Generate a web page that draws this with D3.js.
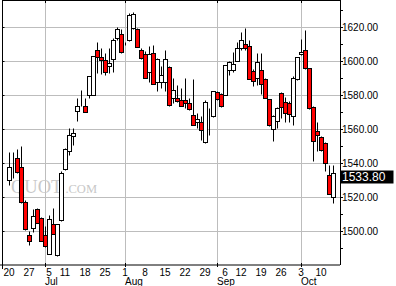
<!DOCTYPE html>
<html>
<head>
<meta charset="utf-8">
<script src="https://cdn.jsdelivr.net/npm/d3@7"></script>
<style>
  body { margin: 0; background: #fff; }
  svg { display: block; font-family: "Liberation Sans", Arial, sans-serif; }
</style>
</head>
<body>
<div id="chart"></div>
<script>
// trading days Jun 20 - Oct 13 2005, weekends and market holidays left out
var firstDay = "2005-06-20", lastDay = "2005-10-13";
var holidays = ["2005-07-04", "2005-09-05"];

var open = [1529.8, 1535.8, 1542.5, 1537.6, 1516.8, 1497.6, 1501.4, 1512.4, 1507.6, 1497.6,
            1486.3, 1503.9, 1485.3, 1505.9, 1536.1, 1546.8, 1555.3, 1570.4, 1577.6, 1573.5,
            1580.0, 1580.0, 1606.3, 1601.8, 1600.4, 1596.5, 1600.8, 1613.1, 1615.7, 1610.1,
            1611.8, 1619.4, 1618.6, 1606.3, 1603.9, 1593.5, 1604.7, 1587.6, 1587.6, 1587.6,
            1595.9, 1577.8, 1578.2, 1576.5, 1576.8, 1575.3, 1568.0, 1564.1, 1564.1, 1551.8,
            1565.6, 1567.1, 1581.2, 1580.4, 1579.8, 1594.5, 1594.5, 1599.8, 1607.2, 1609.6,
            1608.8, 1594.1, 1589.6, 1594.5, 1589.2, 1577.2, 1559.8, 1564.5, 1580.8, 1575.5,
            1575.3, 1567.6, 1589.2, 1603.7, 1605.9, 1595.5, 1572.9, 1558.8, 1554.9, 1551.4,
            1532.4, 1519.6];
var high = [1546.1, 1546.0, 1548.0, 1549.5, 1518.0, 1499.8, 1512.5, 1513.1, 1508.0, 1502.7,
            1509.2, 1513.3, 1504.1, 1534.9, 1548.4, 1560.2, 1560.2, 1577.8, 1582.5, 1578.2,
            1590.8, 1602.6, 1610.8, 1607.3, 1604.3, 1607.3, 1613.5, 1619.6, 1618.6, 1611.0,
            1628.0, 1628.4, 1619.0, 1607.6, 1605.7, 1608.8, 1609.2, 1601.4, 1596.5, 1606.3,
            1596.5, 1589.6, 1585.6, 1583.7, 1589.6, 1578.2, 1589.2, 1569.0, 1567.2, 1576.5,
            1571.9, 1582.1, 1581.8, 1581.0, 1597.6, 1600.0, 1605.3, 1610.8, 1616.6, 1619.0,
            1612.0, 1595.0, 1604.3, 1604.3, 1589.6, 1577.5, 1567.8, 1572.5, 1581.4, 1578.4,
            1576.2, 1590.8, 1602.0, 1612.5, 1618.0, 1595.8, 1573.5, 1564.1, 1555.3, 1552.0,
            1538.6, 1538.6];
var low = [1526.9, 1531.0, 1533.7, 1516.2, 1500.5, 1491.2, 1499.4, 1504.3, 1493.8, 1490.2,
           1486.0, 1498.0, 1485.0, 1505.3, 1535.5, 1544.5, 1550.4, 1564.5, 1573.5, 1569.8,
           1577.8, 1579.6, 1592.5, 1592.0, 1591.6, 1592.5, 1593.1, 1612.2, 1604.5, 1609.4,
           1611.5, 1618.8, 1607.8, 1601.0, 1589.6, 1587.6, 1586.0, 1581.8, 1583.7, 1581.8,
           1573.5, 1574.9, 1575.5, 1573.0, 1572.0, 1571.0, 1561.8, 1560.2, 1553.3, 1551.5,
           1556.2, 1566.8, 1577.0, 1572.5, 1579.5, 1591.2, 1593.5, 1599.5, 1606.4, 1606.2,
           1589.0, 1585.3, 1585.6, 1580.2, 1578.0, 1561.5, 1552.4, 1560.2, 1566.1, 1564.1,
           1564.1, 1561.8, 1588.8, 1603.4, 1595.2, 1571.6, 1541.0, 1546.5, 1546.5, 1535.0,
           1521.2, 1515.9];
var close = [1537.6, 1535.8, 1534.7, 1516.6, 1500.8, 1494.1, 1508.8, 1504.7, 1494.1, 1491.1,
             1506.5, 1498.2, 1503.9, 1533.8, 1547.8, 1556.0, 1557.6, 1573.5, 1577.6, 1570.0,
             1590.6, 1602.4, 1601.8, 1600.4, 1593.5, 1598.8, 1611.8, 1618.4, 1604.9, 1610.1,
             1626.9, 1627.5, 1608.2, 1601.4, 1590.0, 1603.9, 1586.1, 1600.8, 1591.6, 1600.8,
             1573.9, 1582.7, 1575.9, 1573.5, 1575.3, 1571.4, 1562.1, 1565.5, 1559.2, 1575.5,
             1565.6, 1581.8, 1577.2, 1573.0, 1597.4, 1599.4, 1597.8, 1607.6, 1611.8, 1607.2,
             1589.2, 1588.2, 1599.4, 1586.1, 1578.2, 1561.8, 1567.4, 1571.9, 1572.9, 1569.0,
             1568.8, 1590.0, 1601.8, 1605.3, 1595.5, 1572.0, 1552.7, 1555.9, 1547.4, 1539.6,
             1521.5, 1533.8];

var dayTicks = ["2005-06-20", "2005-06-27", "2005-07-05", "2005-07-11", "2005-07-18", "2005-07-25",
                "2005-08-01", "2005-08-08", "2005-08-15", "2005-08-22", "2005-08-29", "2005-09-06",
                "2005-09-12", "2005-09-19", "2005-09-26", "2005-10-03", "2005-10-10"];
var monthTicks = ["2005-07-01", "2005-08-01", "2005-09-01", "2005-10-03"];
var priceTicks = [1500, 1520, 1540, 1560, 1580, 1600, 1620];
var minorTicks = [1490, 1510, 1530, 1550, 1570, 1590, 1610, 1630];
var lastPrice = 1533.80;

var width = 396, height = 286;
var plot = { left: 2.5, right: 340, top: 0.5, bottom: 265 };

var parse = d3.timeParse("%Y-%m-%d"), fmt = d3.timeFormat("%Y-%m-%d");
var days = d3.timeDay.range(parse(firstDay), d3.timeDay.offset(parse(lastDay), 1))
  .filter(function (d) { return d.getDay() % 6 !== 0 && holidays.indexOf(fmt(d)) < 0; });
var idx = {};
days.forEach(function (d, i) { idx[fmt(d)] = i; });

var data = days.map(function (d, i) {
  return { date: d, i: i, o: open[i], h: high[i], l: low[i], c: close[i] };
});

// 4px per trading day
var x = d3.scaleLinear().domain([0, days.length - 1]).range([9.5, 9.5 + 4 * (days.length - 1)]);
var y = d3.scaleLinear().domain([1480, 1635.6]).range([plot.bottom, plot.top]);

function px(v) { return Math.round(v - 0.5) + 0.5; }

var svg = d3.select("#chart").append("svg").attr("width", width).attr("height", height);

// grid
svg.append("g").selectAll("line").data(priceTicks).enter().append("line")
  .attr("x1", plot.left).attr("x2", plot.right)
  .attr("y1", function (d) { return px(y(d)); }).attr("y2", function (d) { return px(y(d)); })
  .attr("stroke", "#bdbdbd");
svg.append("g").selectAll("line").data(monthTicks).enter().append("line")
  .attr("x1", function (d) { return x(idx[d]); }).attr("x2", function (d) { return x(idx[d]); })
  .attr("y1", plot.top).attr("y2", plot.bottom)
  .attr("stroke", "#bdbdbd");

// watermark
var wm = svg.append("text").attr("x", 11).attr("y", 193)
  .attr("fill", "#c8c8c8").style("font-family", "'Liberation Serif', 'Times New Roman', serif");
wm.append("tspan").attr("font-size", 18.5).text("QUOT");
wm.append("tspan").attr("font-size", 12.5).attr("dx", 3).text(".COM");

// candles
var candles = svg.append("g").selectAll("g").data(data).enter().append("g");
candles.append("line")
  .attr("x1", function (d) { return x(d.i); }).attr("x2", function (d) { return x(d.i); })
  .attr("y1", function (d) { return px(y(d.h)); }).attr("y2", function (d) { return px(y(d.l)); })
  .attr("stroke", "#000");
candles.append("rect")
  .attr("x", function (d) { return x(d.i) - 2; })
  .attr("width", 4)
  .attr("y", function (d) { return px(y(Math.max(d.o, d.c))); })
  .attr("height", function (d) { return px(y(Math.min(d.o, d.c))) - px(y(Math.max(d.o, d.c))); })
  .attr("fill", function (d) { return d.c < d.o ? "#ff0000" : "#fff"; })
  .attr("stroke", "#000");

// frame
svg.append("line").attr("x1", plot.left).attr("x2", plot.right).attr("y1", plot.top).attr("y2", plot.top).attr("stroke", "#000");
svg.append("line").attr("x1", plot.left).attr("x2", plot.left).attr("y1", 0).attr("y2", 269).attr("stroke", "#000");
svg.append("line").attr("x1", 0).attr("x2", plot.right).attr("y1", plot.bottom).attr("y2", plot.bottom).attr("stroke", "#000");

// small ticks on the frame
svg.append("g").selectAll("line").data(priceTicks).enter().append("line")
  .attr("x1", plot.left).attr("x2", plot.left + 2)
  .attr("y1", function (d) { return px(y(d)); }).attr("y2", function (d) { return px(y(d)); })
  .attr("stroke", "#000");
svg.append("g").selectAll("line").data(monthTicks).enter().append("line")
  .attr("x1", function (d) { return x(idx[d]); }).attr("x2", function (d) { return x(idx[d]); })
  .attr("y1", 0).attr("y2", 3).attr("stroke", "#000");
svg.append("g").selectAll("line").data(monthTicks).enter().append("line")
  .attr("x1", function (d) { return x(idx[d]); }).attr("x2", function (d) { return x(idx[d]); })
  .attr("y1", plot.bottom - 2).attr("y2", plot.bottom + 2).attr("stroke", "#000");

// right price axis
var yAxis = svg.append("g")
  .attr("transform", "translate(" + plot.right + ",0)")
  .call(d3.axisRight(y).tickValues(priceTicks).tickFormat(d3.format(".2f"))
    .tickSize(3).tickSizeOuter(0).tickPadding(0));
yAxis.select(".domain").attr("d", "M0.5,0V" + plot.bottom).attr("stroke", "#000");
yAxis.selectAll(".tick line").attr("x1", 0.5).attr("x2", 3);
yAxis.selectAll(".tick text").attr("x", 2).attr("font-size", 10)
  .attr("font-family", "'Liberation Sans', Arial, sans-serif").attr("fill", "#000");
yAxis.selectAll(".minor").data(minorTicks).enter().append("line")
  .attr("class", "minor")
  .attr("x1", 0.5).attr("x2", 3)
  .attr("y1", function (d) { return px(y(d)); }).attr("y2", function (d) { return px(y(d)); })
  .attr("stroke", "#000");

// last price box
var ly = y(lastPrice);
svg.append("rect").attr("x", plot.right + 0.5).attr("y", Math.round(ly) - 3.5)
  .attr("width", 53).attr("height", 13).attr("fill", "#000");
svg.append("text").attr("x", plot.right + 2).attr("y", ly + 7)
  .attr("font-size", 12).attr("fill", "#fff")
  .text(d3.format(".2f")(lastPrice));

// date labels
var dayFmt = d3.timeFormat("%-d"), monFmt = d3.timeFormat("%b");
svg.append("g").selectAll("text").data(dayTicks).enter().append("text")
  .attr("x", function (d) { return x(idx[d]) - 0.5; }).attr("y", 275.5)
  .attr("text-anchor", "middle").attr("font-size", 10)
  .text(function (d) { return dayFmt(parse(d)); });
svg.append("g").selectAll("text").data(monthTicks).enter().append("text")
  .attr("x", function (d) { return x(idx[d]) - 0.5; }).attr("y", 284.5)
  .attr("font-size", 10)
  .text(function (d) { return monFmt(parse(d)); });
</script>
</body>
</html>
